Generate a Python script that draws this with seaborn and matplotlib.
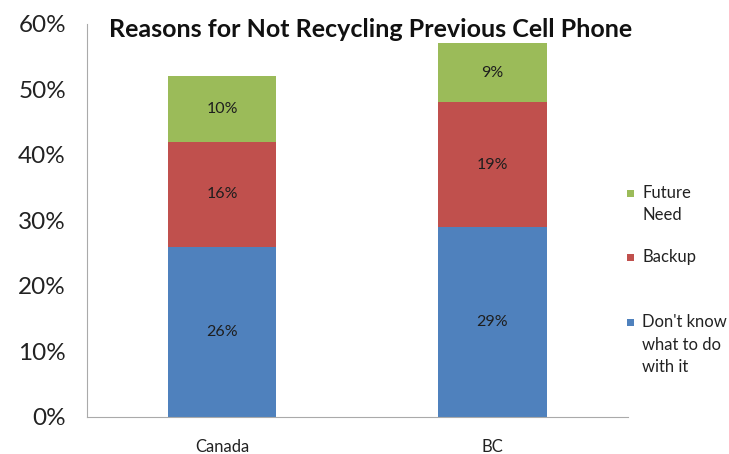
import pandas as pd
import numpy as np
import matplotlib.pyplot as plt
import seaborn as sns
from matplotlib.patches import Rectangle

regions = ["Canada", "BC"]
dont_know = [26, 29]
backup = [16, 19]
future_need = [10, 9]

series_names = ["Don't know\nwhat to do\nwith it", "Backup", "Future\nNeed"]
series_values = [dont_know, backup, future_need]
colors = ["#4F81BD", "#C0504D", "#9BBB59"]

sns.set_theme(style="white")
plt.rcParams['font.family'] = ['Lato', 'DejaVu Sans']

fig = plt.figure(figsize=(7.29, 4.54), dpi=100)
ax = fig.add_axes([0.119, 0.0815, 0.742, 0.866])

# cumulative tops of each segment
cum = np.cumsum(np.array(series_values), axis=0)
bottoms = cum - np.array(series_values)

# draw from the top segment down so lower segments cover the taller bars
for i in reversed(range(len(series_names))):
    df = pd.DataFrame({"region": regions, "value": cum[i]})
    sns.barplot(data=df, x="region", y="value", color=colors[i], width=0.4,
                saturation=1, linewidth=0, ax=ax, order=regions)

for i in range(len(series_names)):
    for j, r in enumerate(regions):
        mid = bottoms[i][j] + series_values[i][j] / 2
        ax.text(j, mid, f"{series_values[i][j]}%", ha='center', va='center',
                fontsize=11.5, color='#1e1e1e')

ax.set_xlim(-0.5, 1.5)
ax.set_ylim(0, 60)
ax.set_yticks(range(0, 61, 10))
ax.set_yticklabels([f"{v}%" for v in range(0, 61, 10)], fontsize=17.5, color='#222222')
ax.set_xticks([0, 1])
ax.set_xticklabels(regions, fontsize=12, color='#222222')
ax.set_xticks([-0.5, 0.5, 1.5], minor=True)
ax.tick_params(axis='x', which='major', length=0, pad=16)
ax.tick_params(axis='x', which='minor', length=6, color='#aaaaaa', width=0.8, direction='out')
ax.tick_params(axis='y', length=6, color='#aaaaaa', width=0.8, direction='out', pad=9)
ax.set_xlabel("")
ax.set_ylabel("")

for side in ['top', 'right']:
    ax.spines[side].set_visible(False)
for side in ['left', 'bottom']:
    ax.spines[side].set_color('#aaaaaa')
    ax.spines[side].set_linewidth(0.8)

fig.text(0.509, 0.934, "Reasons for Not Recycling Previous Cell Phone",
         ha='center', va='center', fontsize=18, fontweight='bold', color='#111111')

# legend: square aligned with the first line of each label
legend_y = [193, 257, 322]
for k, i in enumerate(reversed(range(3))):
    yf = 1 - legend_y[k] / 454
    fig.patches.append(Rectangle((627 / 729, yf - 3.5 / 454), 7 / 729, 7 / 454,
                                 transform=fig.transFigure, facecolor=colors[i],
                                 edgecolor='none'))
    fig.text(642 / 729, yf + 8 / 454, series_names[i], ha='left', va='top',
             fontsize=12, color='#222222', linespacing=1.5)

fig.savefig("out.png", dpi=100)
